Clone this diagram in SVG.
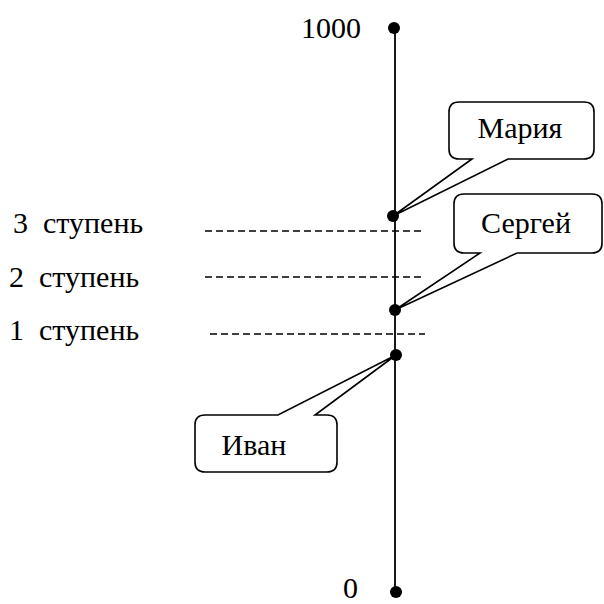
<svg xmlns="http://www.w3.org/2000/svg" width="604" height="604" viewBox="0 0 604 604">
<style>
.t{font-family:'Times New Roman','Liberation Serif','DejaVu Serif',serif;font-size:30px;fill:#000}
.dash{stroke:#000;stroke-width:1.5;stroke-dasharray:7 4;fill:none}
.callout{fill:#fff;stroke:#000;stroke-width:1.6;stroke-linejoin:miter}
.dot{fill:#000}
</style>
<rect width="604" height="604" fill="#fff"/>
<g id="axis">
<line x1="395" y1="28" x2="395" y2="592" stroke="#000" stroke-width="1.8"/>
<circle class="dot" cx="394" cy="28" r="6"/>
<circle class="dot" cx="396" cy="592" r="6"/>
<text class="t" x="361" y="38" text-anchor="end">1000</text>
<text class="t" x="343" y="598">0</text>
</g>
<g id="levels">
<line class="dash" x1="205" y1="231" x2="423" y2="231"/>
<line class="dash" x1="205" y1="277" x2="423" y2="277"/>
<line class="dash" x1="210" y1="334" x2="425" y2="334"/>
<text class="t" x="13" y="233" xml:space="preserve">3  ступень</text>
<text class="t" x="9" y="287" xml:space="preserve">2  ступень</text>
<text class="t" x="9" y="340" xml:space="preserve">1  ступень</text>
</g>
<g id="connectors">
<circle class="dot" cx="393" cy="216" r="6"/>
<circle class="dot" cx="395" cy="310" r="6"/>
<circle class="dot" cx="396" cy="355" r="6"/>
</g>
<g id="maria">
<path class="callout" d="M459,102 H584 Q594,102 594,112 V149 Q594,159 584,159 H508 L393,216 L472,159 H459 Q449,159 449,149 V112 Q449,102 459,102 Z"/>
<text class="t" x="520" y="138" text-anchor="middle">Мария</text>
</g>
<g id="sergey">
<path class="callout" d="M464,194 H592 Q602,194 602,204 V243 Q602,253 592,253 H517 L395,310 L480,253 H464 Q454,253 454,243 V204 Q454,194 464,194 Z"/>
<text class="t" x="526" y="233" text-anchor="middle">Сергей</text>
</g>
<g id="ivan">
<path class="callout" d="M205,415 H278 L396,355 L315,415 H327 Q337,415 337,425 V462 Q337,472 327,472 H205 Q195,472 195,462 V425 Q195,415 205,415 Z"/>
<text class="t" x="254" y="455" text-anchor="middle">Иван</text>
</g>
</svg>
